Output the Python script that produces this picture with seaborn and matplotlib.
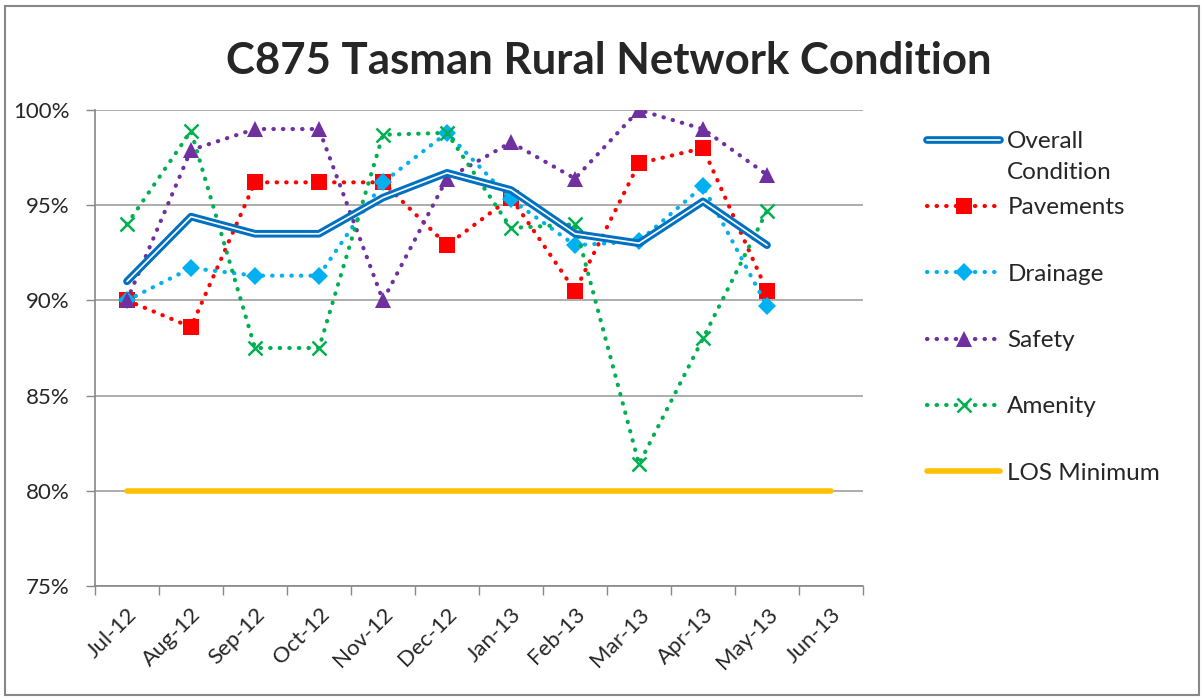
import pandas as pd
import matplotlib.pyplot as plt
import seaborn as sns
import numpy as np
from matplotlib.lines import Line2D
from matplotlib.patches import Rectangle
from matplotlib.ticker import FuncFormatter, FixedLocator

months = ["Jul-12", "Aug-12", "Sep-12", "Oct-12", "Nov-12", "Dec-12",
          "Jan-13", "Feb-13", "Mar-13", "Apr-13", "May-13", "Jun-13"]

overall = [0.910, 0.944, 0.935, 0.935, 0.954, 0.967, 0.958, 0.935, 0.930, 0.952, 0.929]
pavements = [0.900, 0.886, 0.962, 0.962, 0.962, 0.929, 0.954, 0.905, 0.972, 0.980, 0.905]
drainage = [0.900, 0.917, 0.913, 0.913, 0.962, 0.988, 0.953, 0.929, 0.931, 0.960, 0.897]
safety = [0.900, 0.979, 0.990, 0.990, 0.900, 0.964, 0.983, 0.964, 1.000, 0.990, 0.966]
amenity = [0.940, 0.989, 0.875, 0.875, 0.987, 0.988, 0.938, 0.940, 0.814, 0.880, 0.947]
los_min = [0.80] * 12

sns.set_theme(style="white")
plt.rcParams['font.family'] = ['Lato', 'DejaVu Sans']

fig = plt.figure(figsize=(12.04, 6.98), dpi=100)
ax = fig.add_axes([95 / 1204, 1 - 586 / 698, (863 - 95) / 1204, (586 - 110) / 698])

x_all = np.arange(len(months))
x11 = x_all[:len(overall)]

dot = (0, (0.1, 2.2))

# series styles: (color, marker, size, edge width)
styles = {
    "Pavements": ("#FF0000", "s", 11, 0),
    "Drainage": ("#00B0F0", "D", 9, 0),
    "Safety": ("#7030A0", "^", 12, 0),
    "Amenity": ("#00B050", "x", 10, 1.8),
}
series = {"Pavements": pavements, "Drainage": drainage, "Safety": safety, "Amenity": amenity}

# LOS minimum
sns.lineplot(x=x_all, y=los_min, ax=ax, color="#FFC000", lw=4, zorder=2)

for name, vals in series.items():
    c, m, ms, mew = styles[name]
    sns.lineplot(x=x11, y=vals, ax=ax, color=c, lw=3, linestyle=dot,
                 dash_capstyle="round", marker=m, markersize=ms,
                 markeredgewidth=mew, markeredgecolor=c, markerfacecolor=c, zorder=3)

# overall condition, double line
sns.lineplot(x=x11, y=overall, ax=ax, color="#0070C0", lw=5.5, zorder=4,
             solid_capstyle="round", solid_joinstyle="round")
sns.lineplot(x=x11, y=overall, ax=ax, color="white", lw=1.2, zorder=5)

ax.set_xlim(-0.5, len(months) - 0.5)
ax.set_ylim(0.75, 1.0)
ax.set_yticks(np.arange(0.75, 1.001, 0.05))
ax.yaxis.set_major_formatter(FuncFormatter(lambda v, p: f"{v * 100:.0f}%"))
ax.grid(axis="y", color="#A0A0A0", lw=1.2)
ax.set_axisbelow(True)

ax.set_xticks(x_all)
ax.set_xticklabels(months, rotation=45, ha="right", rotation_mode="anchor", fontsize=16)
ax.xaxis.set_minor_locator(FixedLocator(np.arange(-0.5, len(months), 1.0)))
ax.tick_params(axis="x", which="major", length=0, pad=13)
ax.tick_params(axis="x", which="minor", length=6.5, width=1, color="#888888", direction="out", bottom=True)
ax.tick_params(axis="y", length=6.5, width=1, color="#888888", direction="out", left=True, labelsize=16, pad=12)

for s in ["top", "right"]:
    ax.spines[s].set_visible(False)
for s in ["left", "bottom"]:
    ax.spines[s].set_color("#888888")
    ax.spines[s].set_linewidth(1.2)

ax.set_xlabel("")
ax.set_ylabel("")

fig.text(609 / 1204, 1 - 61 / 698, "C875 Tasman Rural Network Condition",
         ha="center", va="center", fontsize=31.5, fontweight="bold")

handles = [
    (Line2D([], [], color="#0070C0", lw=5.5, solid_capstyle="round"),
     Line2D([], [], color="white", lw=1.2)),
]
for name in series:
    c, m, ms, mew = styles[name]
    handles.append(Line2D([], [], color=c, lw=3, linestyle=dot, dash_capstyle="round",
                          marker=m, markersize=ms, markeredgewidth=mew,
                          markeredgecolor=c, markerfacecolor=c))
handles.append(Line2D([], [], color="#FFC000", lw=4))

# every entry takes two lines, as in the original legend
labels = ["Overall\nCondition", "Pavements\n", "Drainage\n", "Safety\n", "Amenity\n", "LOS Minimum\n"]
leg = fig.legend(handles, labels, loc="upper left", bbox_to_anchor=(915 / 1204, 1 - 119 / 698),
                 frameon=False, fontsize=17.5, handlelength=3.0, handletextpad=0.3,
                 labelspacing=0.58, borderpad=0)
for t in leg.get_texts():
    t.set_linespacing(1.6)
for col in leg._legend_handle_box.get_children():
    for row in col.get_children():
        row.align = "top"

fig.add_artist(Rectangle((0.004, 0.004), 0.992, 0.988, transform=fig.transFigure,
                         fill=False, edgecolor="#888888", lw=1.5))

fig.savefig("out.png", dpi=100)
